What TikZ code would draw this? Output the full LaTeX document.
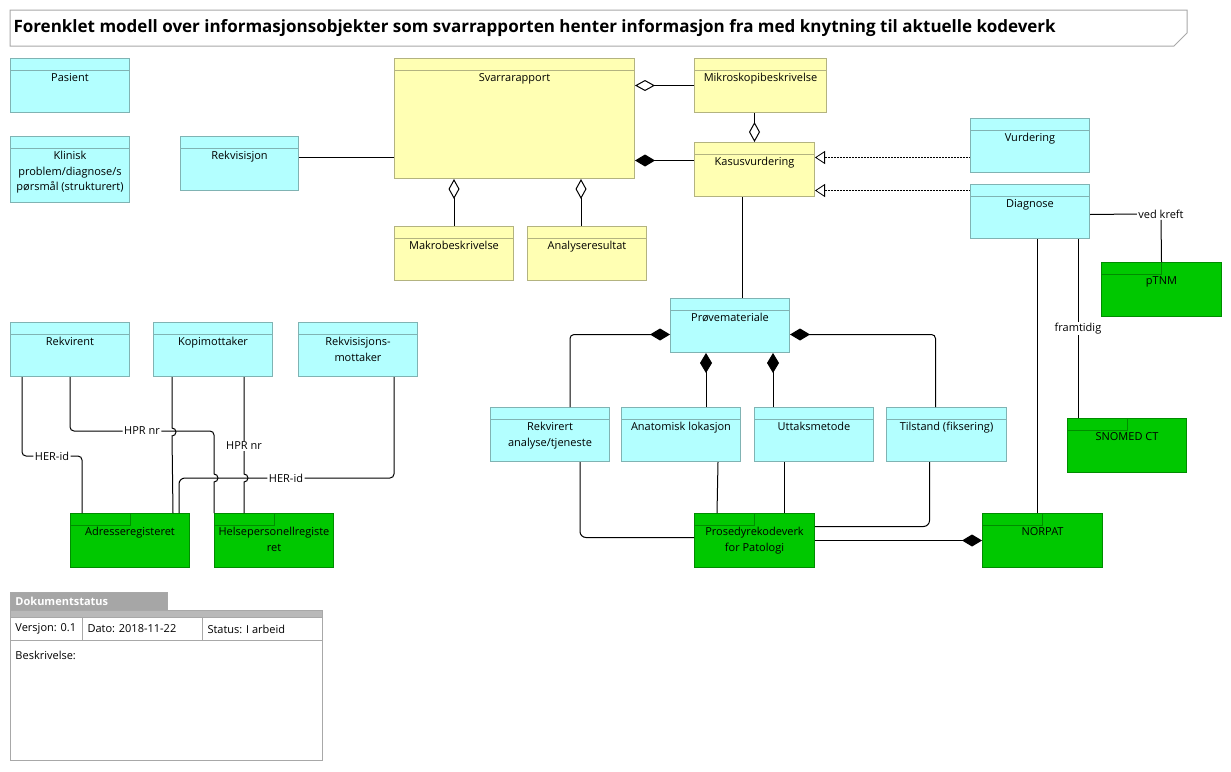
\documentclass[tikz,border=0pt]{standalone}
\usepackage{fontspec}
\setmainfont{Open Sans}
\usetikzlibrary{arrows.meta, positioning, calc}

\definecolor{clsfill}{HTML}{B3FFFF}
\definecolor{clsline}{HTML}{80B3B3}
\definecolor{yfill}{HTML}{FFFFB3}
\definecolor{yline}{HTML}{B3B380}
\definecolor{pkgfill}{HTML}{00C800}
\definecolor{pkgline}{HTML}{008C00}
\definecolor{framegray}{HTML}{A8A8A8}
\definecolor{docgray}{HTML}{A6A6A6}

\newcommand\boxfont{\fontsize{11}{15.5}\selectfont}
\newcommand\titlefont{\fontsize{17}{20}\selectfont\bfseries}

\tikzset{
  cls/.style={draw=clsline, fill=clsfill, anchor=north west, inner sep=0pt},
  ycls/.style={draw=yline, fill=yfill, anchor=north west, inner sep=0pt},
  pkg/.style={draw=pkgline, fill=pkgfill, anchor=north west, inner sep=0pt},
  boxtext/.style={anchor=north, align=center, inner sep=0pt, font=\boxfont},
  lbl/.style={fill=white, inner sep=1pt, font=\boxfont},
  agg/.style={arrows={Diamond[open,length=20pt,width=11pt]}-},
  comp/.style={arrows={Diamond[length=20pt,width=12pt]}-},
  real/.style={arrows={Triangle[open,length=10pt,width=13pt]}-, dash pattern=on 2pt off 1pt, line width=0.8pt}
}

\begin{document}
\begin{tikzpicture}[x=1pt,y=-1pt,line width=1pt]
  \useasboundingbox (0,0) rectangle (1231,771);
  \draw[framegray] (10,10) -- (1187,10) -- (1187,33) -- (1174,46) -- (10,46) -- cycle;
  \node[anchor=west, inner sep=0pt, font=\titlefont] (title) at (13,28)
    {Forenklet modell over informasjonsobjekter som svarrapporten henter informasjon fra med knytning til aktuelle kodeverk};

  \foreach \n/\x/\y/\w/\h/\txt in {pasient/10/58/119/54/{Pasient},
      klinisk/10/136/119/66/{Klinisk\\problem/diagnose/s\\pørsmål (strukturert)},
      rekvisisjon/180/136/118/54/{Rekvisisjon}, vurdering/970/118/119/54/{Vurdering},
      diagnose/970/184/119/54/{Diagnose}, provemat/670/298/119/54/{Prøvemateriale},
      rekvirent/10/322/119/54/{Rekvirent}, kopimottaker/153/322/119/54/{Kopimottaker},
      rekvmottaker/298/322/119/54/{Rekvisisjons-\\mottaker},
      rekvanalyse/490/407/119/54/{Rekvirert\\analyse/tjeneste},
      anatomisk/621/407/119/54/{Anatomisk lokasjon}, uttak/754/407/119/54/{Uttaksmetode},
      tilstand/886/407/120/54/{Tilstand (fiksering)}}
    {\node[cls, minimum width=\w pt, minimum height=\h pt] (\n) at (\x,\y) {};
     \draw[clsline] ([yshift=-12pt]\n.north west) -- ([yshift=-12pt]\n.north east);
     \node[boxtext] (\n-t) at ([yshift=-15pt]\n.north) {\txt};}

  \foreach \n/\x/\y/\w/\h/\txt in {svarrapport/394/58/240/120/{Svarrarapport},
      mikro/694/58/132/54/{Mikroskopibeskrivelse}, kasus/694/142/120/54/{Kasusvurdering},
      makro/394/226/119/54/{Makrobeskrivelse}, analyse/527/226/119/54/{Analyseresultat}}
    {\node[ycls, minimum width=\w pt, minimum height=\h pt] (\n) at (\x,\y) {};
     \draw[yline] ([yshift=-12pt]\n.north west) -- ([yshift=-12pt]\n.north east);
     \node[boxtext] (\n-t) at ([yshift=-15pt]\n.north) {\txt};}

  \foreach \n/\x/\y/\w/\h/\txt in {ptnm/1101/262/120/54/{pTNM}, snomed/1067/418/119/54/{SNOMED CT},
      adresse/70/513/119/54/{Adresseregisteret}, helsepers/214/513/119/54/{Helsepersonellregiste\\ret},
      prosedyre/694/513/120/54/{Prosedyrekodeverk\\for Patologi}, norpat/982/513/120/54/{NORPAT}}
    {\node[pkg, minimum width=\w pt, minimum height=\h pt] (\n) at (\x,\y) {};
     \draw[pkgline] (\n.north west) rectangle ([xshift=60pt,yshift=-12pt]\n.north west);
     \node[boxtext] (\n-t) at ([yshift=-14pt]\n.north) {\txt};}

  % svarrapport
  \draw ([yshift=6pt]rekvisisjon.east) -- ([yshift=6pt]rekvisisjon.east -| svarrapport.west);
  \draw[agg] (svarrapport.east |- mikro.west) -- (mikro.west);
  \draw[comp] ([yshift=9pt]kasus.west -| svarrapport.east) -- ([yshift=9pt]kasus.west);
  \draw[agg] (kasus.north) -- (kasus.north |- mikro.south);
  \draw[agg] (svarrapport.south -| makro.north) -- (makro.north);
  \draw[agg] ([xshift=-6pt]analyse.north |- svarrapport.south) -- ([xshift=-6pt]analyse.north);
  \draw[real] ([yshift=12pt]kasus.east) -- ([yshift=12pt]kasus.east -| vurdering.west);
  \draw[real] ([yshift=-21pt]kasus.east) -- ([yshift=-21pt]kasus.east -| diagnose.west);
  \draw ([xshift=-12pt]kasus.south) -- ([xshift=-12pt]kasus.south |- provemat.north);

  % diagnose
  \node[lbl] (vedkreft) at (1161,214) {ved kreft};
  \draw ([yshift=-3pt]diagnose.east) -- (vedkreft.west);
  \draw (vedkreft.south) -- (ptnm.north);
  \draw ([xshift=11pt]snomed.north west) -- node[lbl] (framtidig) {framtidig}
    ([xshift=11pt]snomed.north west |- diagnose.south);
  \draw ([xshift=55pt]norpat.north west) -- ([xshift=55pt]norpat.north west |- diagnose.south);

  % provemateriale
  \draw[comp, rounded corners=4pt] ([yshift=-9pt]provemat.west) -| ([xshift=20pt]rekvanalyse.north);
  \draw[comp] ([xshift=-24pt]provemat.south) -- ([xshift=-24pt]provemat.south |- anatomisk.north);
  \draw[comp] ([xshift=43pt]provemat.south) -- ([xshift=43pt]provemat.south |- uttak.north);
  \draw[comp, rounded corners=4pt] ([yshift=-9pt]provemat.east) -| ([xshift=-11pt]tilstand.north);
  \draw[rounded corners=6pt] ([xshift=30pt]rekvanalyse.south) |- ([yshift=3pt]prosedyre.west);
  \draw ([xshift=37pt]anatomisk.south) -- ([xshift=23pt]prosedyre.north west);
  \draw ([xshift=-30pt]uttak.south) -- ([xshift=-30pt]uttak.south |- prosedyre.north);
  \draw[rounded corners=6pt] ([xshift=-17pt]tilstand.south) |- ([yshift=14pt]prosedyre.east);
  \draw[comp] (norpat.west) -- (prosedyre.east);

  % registre
  \node[lbl] (herid1) at (52,456) {HER-id};
  \node[lbl] (hprnr1) at (142,431) {HPR nr};
  \node[lbl] (herid2) at (286,478) {HER-id};
  \draw[rounded corners=4pt] ([xshift=12pt]rekvirent.south west) |- (herid1.west);
  \draw[rounded corners=4pt] (herid1.east) -| ([xshift=12pt]adresse.north west);
  \draw[rounded corners=4pt] (rekvirent.south) |- (hprnr1.west);
  \draw[rounded corners=4pt] (hprnr1.east) -| ([yshift=39pt]helsepers.north west) coordinate (j1);
  \draw (j1) arc[start angle=-90,end angle=90,radius=4] -- (helsepers.north west);
  \draw ([xshift=19pt]kopimottaker.south west) -- ++(0,51) arc[start angle=-90,end angle=90,radius=4]
    -- ([xshift=-17pt]adresse.north east);
  \draw ([xshift=91pt]kopimottaker.south west) -- node[lbl,pos=0.71] (hprnr2) {HPR nr}
    ([xshift=30pt,yshift=39pt]helsepers.north west) arc[start angle=-90,end angle=90,radius=4]
    -- ([xshift=30pt]helsepers.north west);
  \draw[rounded corners=4pt] ([xshift=96pt]rekvmottaker.south west) |- (herid2.east);
  \draw[rounded corners=6pt] (herid2.west) -| ([xshift=109pt]adresse.north west);

  % dokumentstatus
  \node[fill=docgray, draw=framegray, anchor=north west, minimum width=157pt, minimum height=18pt] (doktab) at (10,592) {};
  \node[anchor=west, inner sep=0pt, text=white, font=\boxfont\bfseries] (doktab-t) at ([xshift=5pt]doktab.west) {Dokumentstatus};
  \fill[framegray!80] (10,610) rectangle (322,617);
  \draw[framegray] (10,610) rectangle (322,760);
  \draw[framegray] (10,617) -- (322,617) (10,640) -- (322,640) (82,617) -- (82,640) (202,617) -- (202,640);
  \node[anchor=west, inner sep=0pt, font=\boxfont] (versjon) at (15,629) {Versjon: 0.1};
  \node[anchor=west, inner sep=0pt, font=\boxfont] (dato) at (87,629) {Dato: 2018-11-22};
  \node[anchor=west, inner sep=0pt, font=\boxfont] (status) at (207,629) {Status: I arbeid};
  \node[anchor=west, inner sep=0pt, font=\boxfont] (beskrivelse) at (15,655) {Beskrivelse:};
\end{tikzpicture}
\end{document}
